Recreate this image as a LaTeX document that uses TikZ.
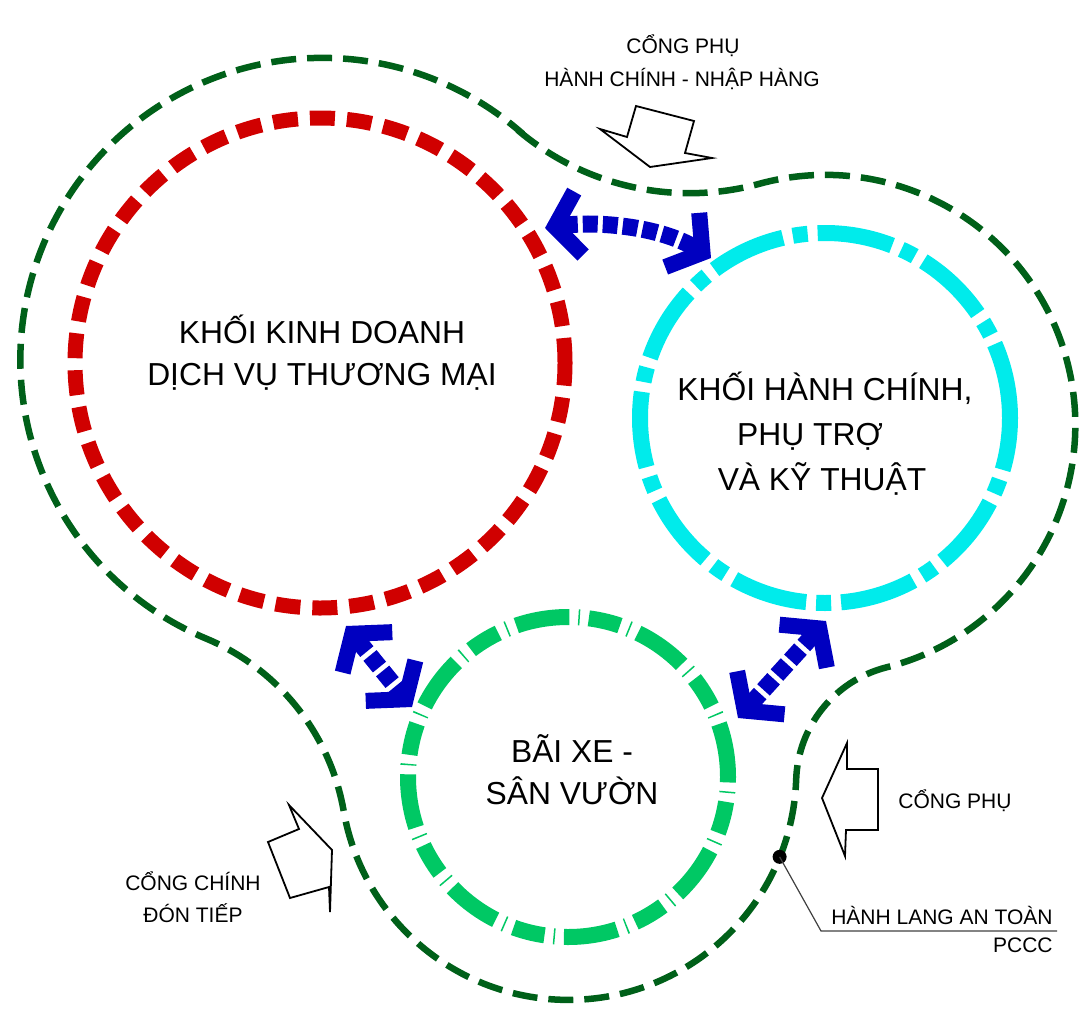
\documentclass[tikz,border=0pt]{standalone}
\usepackage{fontspec}
\setmainfont{Liberation Sans}
\usetikzlibrary{arrows.meta,calc}
\definecolor{redA}{RGB}{208,0,0}
\definecolor{cyanA}{RGB}{0,235,235}
\definecolor{greenA}{RGB}{0,200,100}
\definecolor{dgreen}{RGB}{0,96,25}
\definecolor{blueA}{RGB}{0,0,192}
\begin{document}
\begin{tikzpicture}[x=0.5pt,y=-0.5pt,
  outerline/.style={draw=dgreen, line width=3.25pt, dash pattern=on 12.5pt off 5.5pt},
  redblock/.style={circle, inner sep=0pt, minimum size=245pt, draw=redA, line width=7.5pt, dash pattern=on 12.5pt off 6pt},
  cyanblock/.style={circle, inner sep=0pt, minimum size=185pt, draw=cyanA, line width=8pt, dash pattern=on 38pt off 5pt on 7.5pt off 5pt},
  greenblock/.style={circle, inner sep=0pt, minimum size=160pt, draw=greenA, line width=8pt, dash pattern=on 27pt off 4.5pt on 0.75pt off 4.5pt on 16pt off 4.5pt on 0.75pt off 4.5pt},
  link/.style={draw=blueA, line width=8.5pt, dash pattern=on 7.5pt off 2.5pt,
    arrows={Straight Barb[length=12pt,width=32pt,line width=8pt]-Straight Barb[length=12pt,width=32pt,line width=8pt]}},
  gate/.style={draw=black, line width=0.9pt, line join=miter, fill=white},
  big/.style={font=\fontsize{15.9pt}{19pt}\selectfont, inner sep=0pt},
  small/.style={font=\fontsize{10.5pt}{13pt}\selectfont, inner sep=0pt}]
\useasboundingbox (0,0) rectangle (1081,1012);

% outer safety corridor (arcs round the three blocks joined by concave fillets)
\draw[outerline] (517.7,130.0)
  arc[start angle=130.4, end angle=74.7, radius=265]
  arc[start angle=-105.3, end angle=75.8, radius=250]
  arc[start angle=255.8, end angle=181.93, radius=120]
  arc[start angle=1.93, end angle=170.1, radius=228]
  arc[start angle=-9.9, end angle=-67.3, radius=230]
  arc[start angle=112.7, end angle=310.4, radius=302] -- cycle;

% blocks
\node[redblock] (kd) at (320,363) {};
\node[cyanblock] (hc) at (825,418) {};
\node[greenblock] (bx) at (568,777) {};

% link arrows
\coordinate (a1) at (545,228);
\coordinate (a2) at (711,258);
\coordinate (b1) at (346,626);
\coordinate (b2) at (412,707);
\coordinate (c1) at (826,621);
\coordinate (c2) at (738,718);
\draw[link] (a1) .. controls (595,221) and (660,226) .. (a2);
\draw[link] (b1) -- (b2);
\draw[link] (c1) -- (c2);

% gate arrows
\draw[gate] (600,129) -- (627,137) -- (636,106) -- (694,121) -- (685,153) -- (712,158) -- (650,167) -- cycle;
\draw[gate] (289,805) -- (299,829) -- (268,842) -- (290,898) -- (329,887) -- (330,912) -- (332,850) -- cycle;
\draw[gate] (847,743) -- (847,769) -- (878,769) -- (878,830) -- (846,830) -- (845,856) -- (822,798) -- cycle;

% texts
\node[big, anchor=base] (t1) at (322,343) {KHỐI KINH DOANH};
\node[big, anchor=base] (t2) at (322,385) {DỊCH VỤ THƯƠNG MẠI};
\node[big, anchor=base west] (t3) at (677,400) {KHỐI HÀNH CHÍNH,};
\node[big, anchor=base] (t4) at (810,445) {PHỤ TRỢ};
\node[big, anchor=base] (t5) at (822,490) {VÀ KỸ THUẬT};
\node[big, anchor=base] (t6) at (572,762) {BÃI XE -};
\node[big, anchor=base] (t7) at (572,804) {SÂN VƯỜN};

\node[small, anchor=base] (g1) at (683,54) {CỔNG PHỤ};
\node[small, anchor=base] (g2) at (682,86) {HÀNH CHÍNH - NHẬP HÀNG};
\node[small, anchor=base] (g3) at (955,808) {CỔNG PHỤ};
\node[small, anchor=base] (g4) at (193,890) {CỔNG CHÍNH};
\node[small, anchor=base] (g5) at (193,922) {ĐÓN TIẾP};

% PCCC leader
\coordinate (c3) at (568,772);
\node[circle, fill=black, inner sep=0pt, minimum size=7pt] (dot) at ($(c3)+(21.85:228)$) {};
\node[small, anchor=base east] (h1) at (1053,924) {HÀNH LANG AN TOÀN};
\node[small, anchor=base east] (h2) at (1053,952) {PCCC};
\coordinate (knee) at (821,931);
\coordinate (lend) at (1057,931);
\draw[line width=0.6pt, black!75] (dot.center) -- (knee) -- (lend);
\end{tikzpicture}
\end{document}
